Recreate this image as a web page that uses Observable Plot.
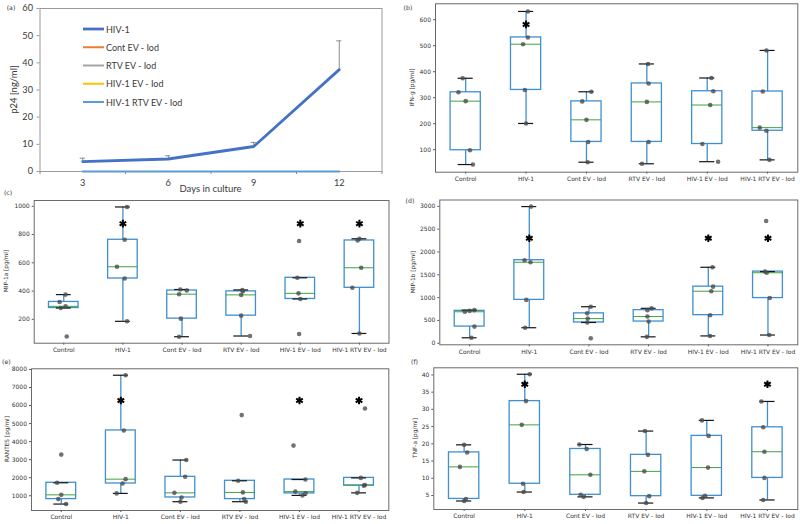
<!DOCTYPE html>
<html><head><meta charset="utf-8">
<script src="https://cdn.jsdelivr.net/npm/d3@7"></script>
<script src="https://cdn.jsdelivr.net/npm/@observablehq/plot@0.6"></script>
<style>
body{margin:0;background:#fff;}
#fig{position:relative;width:800px;height:524px;overflow:hidden;background:#fff;}
.panel{position:absolute;}
#overlay{position:absolute;left:0;top:0;pointer-events:none;}
</style></head><body><div id="fig"></div>
<script>
// ---------- Panel (a): p24 time course ----------
const days = [3, 6, 9, 12];
const p24Ticks = [0, 10, 20, 30, 40, 50, 60];
const p24Hiv = [3.6, 4.6, 9.2, 37.5];
const p24HivErr = [1.3, 1.2, 1.5, 10.6];
const p24ContEV = [0, 0, 0, 0];
const p24RtvEV = [0, 0, 0, 0];
const p24HivEV = [0, 0, 0, 0];
const p24HivRtvEV = [0, 0, 0, 0];
const lineSeries = ["HIV-1", "Cont EV - Iod", "RTV EV - Iod", "HIV-1 EV - Iod", "HIV-1 RTV EV - Iod"];
const lineColors = ["#4472C4", "#ED7D31", "#A5A5A5", "#FFC000", "#5B9BD5"];

// ---------- Box plot panels ----------
const groups = ["Control", "HIV-1", "Cont EV - Iod", "RTV EV - Iod", "HIV-1 EV - Iod", "HIV-1 RTV EV - Iod"];

const ifng = [
  [43, 98, 287, 321, 375],
  [201, 330, 506, 532, 632],
  [52, 130, 215, 286, 323],
  [46, 130, 284, 355, 430],
  [54, 122, 272, 325, 376],
  [61, 173, 185, 324, 482]];
const ifngJitter = [
  [0.12, 0.07, 0, -0.12, -0.05],
  [0, -0.02, -0.05, 0.03, 0.03],
  [0.02, 0.03, 0, -0.07, 0.08],
  [-0.08, 0.03, 0, 0.03, 0.02],
  [0.18, -0.08, 0.05, 0.1, 0.07],
  [0.03, -0.02, -0.13, -0.08, -0.02]];
const ifngTicks = [100, 200, 300, 400, 500, 600];
const ifngStarGroups = [2];
const ifngStarLevel = 582;

const mip1a = [
  [79, 280, 292, 323, 375],
  [186, 489, 572, 763, 995],
  [77, 205, 378, 404, 411],
  [82, 226, 373, 398, 408],
  [96, 344, 384, 494, 754],
  [100, 423, 565, 758, 770]];
const mip1aJitter = [
  [0.05, -0.05, 0.03, -0.07, 0.03],
  [0.07, 0.03, -0.1, 0.03, 0.07],
  [-0.05, -0.02, -0.05, 0.08, -0.03],
  [0.15, 0, 0, 0.03, 0.02],
  [-0.02, 0, -0.03, -0.05, -0.02],
  [0, -0.12, 0.03, -0.03, 0]];
const mip1aTicks = [200, 400, 600, 800, 1000];
const mip1aStarGroups = [2, 5, 6];
const mip1aStarLevel = 877;

const mip1b = [
  [120, 365, 690, 710, 725],
  [340, 950, 1775, 1820, 2995],
  [110, 455, 540, 655, 800],
  [140, 475, 585, 725, 765],
  [160, 615, 1140, 1240, 1665],
  [180, 990, 1545, 1570, 2680]];
const mip1bJitter = [
  [0.03, 0.08, -0.08, 0, 0.08],
  [-0.07, -0.05, 0.02, -0.08, 0.03],
  [0.03, -0.03, -0.02, -0.03, 0.03],
  [-0.03, 0, -0.02, -0.02, 0.05],
  [0.03, 0.03, 0.05, 0.08, 0.07],
  [0.02, 0.03, -0.02, -0.05, -0.03]];
const mip1bTicks = [0, 500, 1000, 1500, 2000, 2500, 3000];
const mip1bStarGroups = [2, 5, 6];
const mip1bStarLevel = 2300;

const rantes = [
  [540, 815, 1050, 1720, 3280],
  [1130, 1680, 1920, 4620, 7680],
  [670, 905, 1160, 2050, 2980],
  [670, 815, 1185, 1830, 5470],
  [1020, 1130, 1230, 1900, 3780],
  [1160, 1560, 1600, 1990, 5840]];
const rantesJitter = [
  [0.08, -0.05, 0, -0.07, 0],
  [-0.07, 0.03, 0.08, 0.05, 0.08],
  [0, 0.02, -0.1, 0.08, 0.1],
  [0.1, 0.07, 0.05, -0.03, 0.03],
  [0.05, 0.1, -0.07, 0.1, -0.1],
  [-0.03, 0.08, 0.1, 0.03, 0.1]];
const rantesTicks = [1000, 2000, 3000, 4000, 5000, 6000, 7000, 8000];
const rantesStarGroups = [2, 5, 6];
const rantesStarLevel = 6280;

const tnfa = [
  [3.4, 4.0, 13.3, 17.5, 19.7],
  [6.0, 8.4, 25.5, 32.4, 40.2],
  [4.6, 5.2, 11.0, 18.5, 19.8],
  [2.8, 4.8, 12.0, 16.8, 23.7],
  [4.3, 4.9, 13.1, 22.3, 26.8],
  [3.7, 10.1, 17.7, 24.8, 32.3]];
const tnfaJitter = [
  [0, 0.03, -0.07, 0.05, 0],
  [-0.02, -0.03, -0.05, 0.02, 0.08],
  [-0.03, -0.08, 0.08, 0.02, -0.1],
  [0, 0.05, -0.03, 0.03, -0.02],
  [-0.07, -0.03, 0.02, 0.03, -0.08],
  [-0.07, -0.05, -0.05, -0.07, -0.1]];
const tnfaTicks = [5, 10, 15, 20, 25, 30, 35, 40];
const tnfaStarGroups = [2, 6];
const tnfaStarLevel = 37.3;

// ---------- drawing ----------
const fig = document.getElementById("fig");
function place(node, left, top) {
  const d = document.createElement("div");
  d.className = "panel";
  d.style.left = left + "px";
  d.style.top = top + "px";
  d.appendChild(node);
  fig.appendChild(d);
}

// Panel (a)
(function () {
  const hivRows = days.map((d, i) => ({day: d, value: p24Hiv[i], err: p24HivErr[i]}));
  const zeroSets = [p24ContEV, p24RtvEV, p24HivEV, p24HivRtvEV];
  const zeroRows = zeroSets.flatMap((arr, k) => days.map((d, i) => ({day: d, value: arr[i], s: k + 1})));
  const step = days[1] - days[0];
  const edges = d3.range(days.length + 1).map(i => days[0] - step / 2 + i * step);
  const svg = Plot.plot({
    width: 400, height: 195,
    marginLeft: 39.5, marginTop: 8, marginRight: 18.5, marginBottom: 24,
    style: {fontFamily: "Lato, sans-serif", fontSize: "9.2px", color: "#3a3a3a", background: "transparent"},
    x: {type: "linear", domain: [edges[0], edges[edges.length - 1]]},
    y: {domain: [p24Ticks[0], p24Ticks[p24Ticks.length - 1]]},
    marks: [
      Plot.frame({stroke: "#9a9a9a"}),
      Plot.axisY({ticks: p24Ticks, tickSize: 3, tickPadding: 4, label: null, stroke: "#9a9a9a", tickFormat: d3.format("d")}),
      Plot.axisX({ticks: edges, tickSize: 3, tickFormat: () => "", label: null, stroke: "#8a8a8a"}),
      Plot.axisX({ticks: days, tickSize: 0, tickPadding: 8, label: null, tickFormat: d3.format("d")}),
      Plot.ruleX(hivRows, {x: "day", y1: "value", y2: d => d.value + d.err, stroke: "#8c8c8c", strokeWidth: 1}),
      Plot.ruleY(hivRows, {y: d => d.value + d.err, x1: d => d.day - 0.09, x2: d => d.day + 0.09, stroke: "#8c8c8c", strokeWidth: 1}),
      ...[1, 2, 3, 4].map(k => Plot.lineY(zeroRows.filter(r => r.s === k), {x: "day", y: "value", stroke: lineColors[k], strokeWidth: k === 4 ? 2 : 1})),
      Plot.lineY(hivRows, {x: "day", y: "value", stroke: lineColors[0], strokeWidth: 2.8})
    ]
  });
  place(svg, 0, 0);
})();

function boxPanel(data, jitter, yTicks, starGroups, starLevel, pos) {
  const stats = data.map((vals, i) => {
    const s = vals.slice().sort(d3.ascending);
    const q1 = d3.quantile(s, 0.25), med = d3.quantile(s, 0.5), q3 = d3.quantile(s, 0.75);
    const iqr = q3 - q1;
    const lo = d3.min(s.filter(v => v >= q1 - 1.5 * iqr));
    const hi = d3.max(s.filter(v => v <= q3 + 1.5 * iqr));
    return {g: i + 1, q1, med, q3, lo, hi};
  });
  const rows = data.flatMap((vals, i) => vals.map((v, j) => ({x: i + 1 + jitter[i][j], v})));
  const stars = starGroups.map(g => ({g, v: starLevel}));
  const [mn, mx] = d3.extent(data.flat());
  const pad = (mx - mn) * 0.05;
  const blue = "#3f8fd2";
  const svg = Plot.plot({
    width: pos.w, height: pos.h,
    marginLeft: pos.ml, marginTop: pos.mt, marginRight: pos.mr, marginBottom: pos.mb,
    style: {fontFamily: "'DejaVu Sans', sans-serif", fontSize: "6px", color: "#333", background: "transparent"},
    x: {type: "linear", domain: [0.5, groups.length + 0.5]},
    y: {domain: [mn - pad, mx + pad]},
    marks: [
      Plot.axisX({ticks: groups.map((_, i) => i + 1), tickFormat: d => groups[d - 1], tickSize: 2, tickPadding: 2.5, label: null, stroke: "#555"}),
      Plot.axisY({ticks: yTicks, tickSize: 2, tickPadding: 2.5, label: null, stroke: "#555", tickFormat: d => String(d)}),
      Plot.ruleX(stats, {x: "g", y1: "q3", y2: "hi", stroke: blue, strokeWidth: 1.3}),
      Plot.ruleX(stats, {x: "g", y1: "lo", y2: "q1", stroke: blue, strokeWidth: 1.3}),
      Plot.rect(stats, {x1: d => d.g - 0.25, x2: d => d.g + 0.25, y1: "q1", y2: "q3", fill: "none", stroke: blue, strokeWidth: 1.3}),
      Plot.ruleY(stats, {y: "med", x1: d => d.g - 0.25, x2: d => d.g + 0.25, stroke: "#3da53d", strokeWidth: 1}),
      Plot.ruleY(stats, {y: "hi", x1: d => d.g - 0.125, x2: d => d.g + 0.125, stroke: "#151515", strokeWidth: 1.2}),
      Plot.ruleY(stats, {y: "lo", x1: d => d.g - 0.125, x2: d => d.g + 0.125, stroke: "#151515", strokeWidth: 1.2}),
      Plot.dot(rows, {x: "x", y: "v", r: 2.3, fill: "#4a4a4a", fillOpacity: 0.78, stroke: "none"}),
      Plot.dot(stars, {x: "g", y: "v", symbol: "asterisk", r: 3.6, stroke: "#000", strokeWidth: 2}),
      Plot.frame({stroke: "#6a6a6a"})
    ]
  });
  place(svg, pos.left, pos.top);
}

boxPanel(ifng, ifngJitter, ifngTicks, ifngStarGroups, ifngStarLevel, {left: 400, top: 0, w: 400, h: 190, ml: 35, mt: 3.3, mr: 2.7, mb: 18.3});
boxPanel(mip1a, mip1aJitter, mip1aTicks, mip1aStarGroups, mip1aStarLevel, {left: 0, top: 190, w: 400, h: 165, ml: 33.7, mt: 10, mr: 11.5, mb: 12.3});
boxPanel(mip1b, mip1bJitter, mip1bTicks, mip1bStarGroups, mip1bStarLevel, {left: 400, top: 190, w: 400, h: 165, ml: 39.3, mt: 9.5, mr: 2.7, mb: 10.7});
boxPanel(rantes, rantesJitter, rantesTicks, rantesStarGroups, rantesStarLevel, {left: 0, top: 355, w: 400, h: 169, ml: 31, mt: 13.3, mr: 11.7, mb: 14});
boxPanel(tnfa, tnfaJitter, tnfaTicks, tnfaStarGroups, tnfaStarLevel, {left: 400, top: 355, w: 400, h: 169, ml: 33.3, mt: 12.3, mr: 2.7, mb: 15});

// ---------- overlay text: panel letters, axis titles, legend ----------
const ov = d3.select(fig).append("svg").attr("id", "overlay").attr("width", 800).attr("height", 524);
function txt(s, cx, cy, o = {}) {
  const t = ov.append("text").text(s)
    .attr("text-anchor", o.anchor || "middle").attr("dominant-baseline", "central")
    .attr("font-family", o.font || "'DejaVu Sans', sans-serif")
    .attr("font-size", (o.size || 5.8) + "px")
    .attr("font-weight", o.weight || "normal")
    .attr("fill", o.color || "#333");
  if (o.rotate) t.attr("transform", `translate(${cx},${cy}) rotate(-90)`);
  else t.attr("x", cx).attr("y", cy);
}
txt("(a)", 11, 7.5, {size: 6.2});
txt("(b)", 408, 7, {size: 6.2});
txt("(c)", 8, 192.5, {size: 6.2});
txt("(d)", 410, 200.7, {size: 6.2});
txt("(e)", 6.3, 361.3, {size: 6.2});
txt("(f)", 414.5, 361, {size: 6.2});

txt("p24 [ng/ml]", 13.5, 89.5, {rotate: true, size: 9.5, font: "Lato, sans-serif", color: "#3a3a3a"});
txt("Days in culture", 210.5, 188.5, {size: 9.5, font: "Lato, sans-serif", color: "#3a3a3a"});
txt("IFN-g [pg/ml]", 412, 87.5, {rotate: true});
txt("MIP-1a [pg/ml]", 6, 271, {rotate: true});
txt("MIP-1b [pg/ml]", 412.5, 272, {rotate: true});
txt("RANTES [pg/ml]", 6.5, 439, {rotate: true});
txt("TNF-a [pg/ml]", 415, 438, {rotate: true});

lineSeries.forEach((name, i) => {
  const cy = 29 + i * 18.25;
  ov.append("line").attr("x1", 83).attr("x2", 104).attr("y1", cy).attr("y2", cy)
    .attr("stroke", lineColors[i]).attr("stroke-width", i === 0 ? 2.8 : 2);
  txt(name, 106, cy, {anchor: "start", size: 9, font: "Lato, sans-serif", color: "#3a3a3a"});
});
</script></body></html>
